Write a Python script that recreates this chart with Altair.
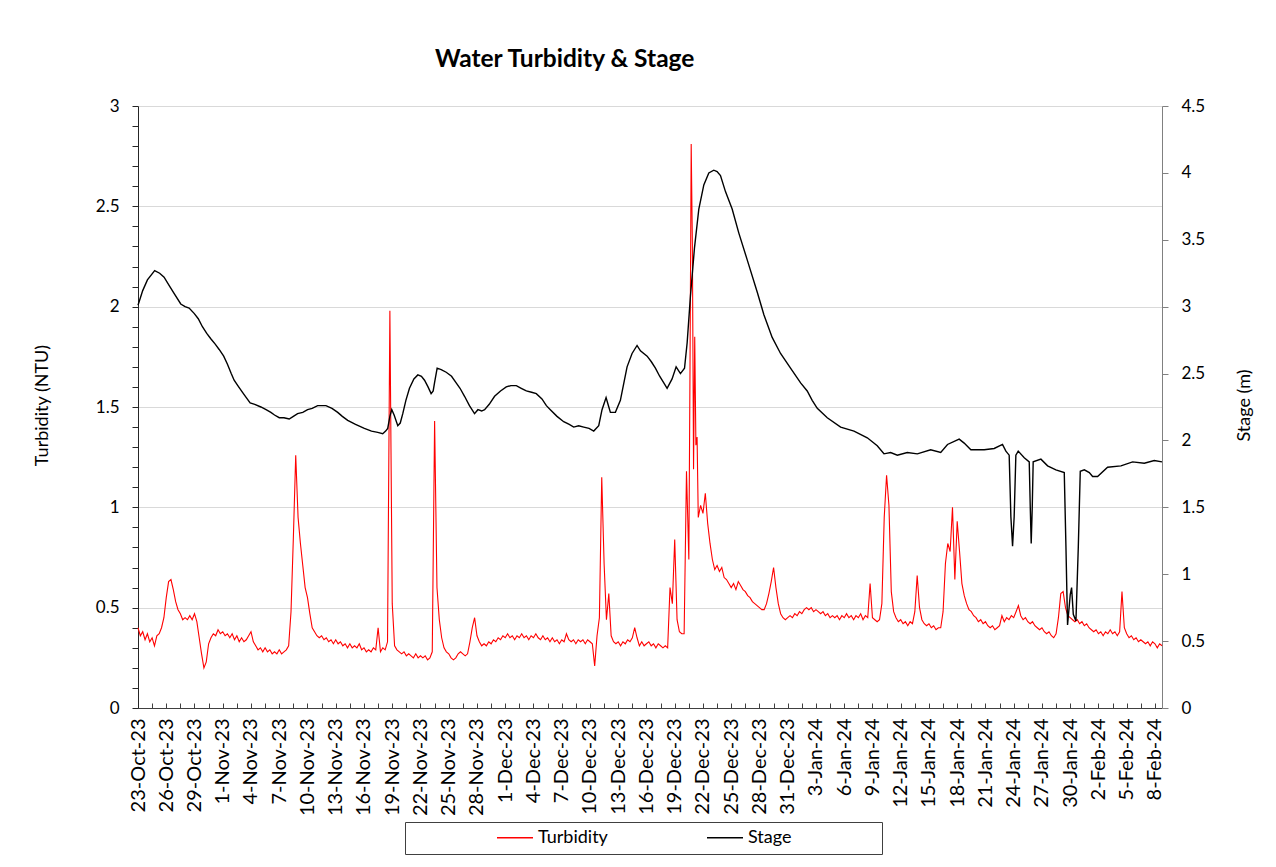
import altair as alt
import pandas as pd

START = "2023-10-23"
END = "2024-02-08T18:00:00"
SERIES = ["Turbidity", "Stage"]
COLORS = ["#ff0000", "#000000"]

# Turbidity (NTU), one reading every 6 hours from 23-Oct-23 00:00
TURB_STEP = "6h"
TURB_NTU = [
    0.40, 0.36, 0.38, 0.34, 0.37, 0.33, 0.35, 0.31,
    0.36, 0.37, 0.40, 0.45, 0.55, 0.63, 0.64, 0.59,
    0.53, 0.49, 0.47, 0.44, 0.45, 0.44, 0.46, 0.44,
    0.47, 0.43, 0.35, 0.27, 0.20, 0.23, 0.32, 0.35,
    0.37, 0.36, 0.39, 0.37, 0.38, 0.36, 0.37, 0.35,
    0.37, 0.34, 0.36, 0.33, 0.35, 0.33, 0.34, 0.36,
    0.38, 0.33, 0.31, 0.29, 0.30, 0.28, 0.30, 0.28,
    0.29, 0.27, 0.28, 0.27, 0.29, 0.27, 0.28, 0.29,
    0.31, 0.48, 0.85, 1.26, 0.95, 0.82, 0.71, 0.60,
    0.55, 0.47, 0.40, 0.38, 0.36, 0.35, 0.36, 0.34,
    0.35, 0.33, 0.34, 0.32, 0.34, 0.32, 0.33, 0.31,
    0.32, 0.30, 0.32, 0.30, 0.31, 0.30, 0.32, 0.29,
    0.30, 0.28, 0.29, 0.28, 0.30, 0.29, 0.40, 0.28,
    0.30, 0.29, 0.33, 1.98, 0.52, 0.31, 0.29, 0.28,
    0.27, 0.28, 0.26, 0.27, 0.26, 0.25, 0.27, 0.25,
    0.26, 0.25, 0.26, 0.24, 0.25, 0.28, 1.43, 0.60,
    0.44, 0.35, 0.30, 0.28, 0.27, 0.25, 0.24, 0.25,
    0.27, 0.28, 0.27, 0.26, 0.27, 0.33, 0.40, 0.45,
    0.36, 0.33, 0.31, 0.32, 0.31, 0.33, 0.32, 0.34,
    0.33, 0.35, 0.34, 0.36, 0.35, 0.37, 0.35, 0.36,
    0.34, 0.36, 0.35, 0.37, 0.35, 0.36, 0.34, 0.36,
    0.35, 0.37, 0.35, 0.34, 0.36, 0.34, 0.35, 0.33,
    0.35, 0.33, 0.34, 0.32, 0.34, 0.33, 0.37, 0.34,
    0.33, 0.34, 0.32, 0.34, 0.33, 0.34, 0.32, 0.34,
    0.33, 0.32, 0.21, 0.36, 0.45, 1.15, 0.72, 0.44,
    0.57, 0.36, 0.33, 0.32, 0.33, 0.31, 0.33, 0.32,
    0.34, 0.33, 0.35, 0.40, 0.35, 0.31, 0.33, 0.31,
    0.32, 0.33, 0.31, 0.32, 0.30, 0.32, 0.31, 0.30,
    0.31, 0.30, 0.60, 0.52, 0.84, 0.44, 0.38, 0.37,
    0.37, 1.18, 0.74, 2.81, 1.19, 1.31, 0.95, 1.01,
    0.97, 1.07, 0.92, 0.82, 0.74, 0.69, 0.71, 0.68,
    0.70, 0.65, 0.64, 0.62, 0.60, 0.62, 0.59, 0.63,
    0.61, 0.59, 0.58, 0.56, 0.55, 0.53, 0.52, 0.51,
    0.50, 0.49, 0.49, 0.52, 0.57, 0.63, 0.70, 0.60,
    0.52, 0.47, 0.45, 0.44, 0.45, 0.46, 0.45, 0.47,
    0.46, 0.48, 0.47, 0.49, 0.50, 0.49, 0.50, 0.48,
    0.49, 0.48, 0.47, 0.48, 0.46, 0.47, 0.45, 0.46,
    0.45, 0.46, 0.44, 0.46, 0.45, 0.47, 0.45, 0.46,
    0.44, 0.46, 0.45, 0.47, 0.44, 0.46, 0.45, 0.62,
    0.45, 0.44, 0.43, 0.44, 0.52, 0.95, 1.16, 1.01,
    0.58, 0.48, 0.45, 0.43, 0.44, 0.42, 0.43, 0.41,
    0.43, 0.42, 0.48, 0.66, 0.50, 0.44, 0.42, 0.41,
    0.42, 0.40, 0.41, 0.39, 0.40, 0.40, 0.48, 0.72,
    0.82, 0.78, 1.00, 0.64, 0.93, 0.78, 0.62, 0.56,
    0.52, 0.49, 0.48, 0.46, 0.45, 0.43, 0.44, 0.42,
    0.43, 0.41, 0.40, 0.41, 0.39, 0.40, 0.41, 0.46,
    0.43, 0.45, 0.44, 0.46, 0.45, 0.48, 0.51, 0.46,
    0.44, 0.45, 0.43, 0.42, 0.43, 0.41, 0.40, 0.39,
    0.40, 0.38, 0.37, 0.38, 0.36, 0.35, 0.37, 0.45,
    0.57, 0.58, 0.50, 0.46, 0.45, 0.44, 0.43, 0.44,
    0.42, 0.43, 0.41, 0.42, 0.40, 0.39, 0.38, 0.39,
    0.37, 0.38, 0.36, 0.38, 0.37, 0.39, 0.37, 0.38,
    0.36, 0.38, 0.58, 0.40, 0.37, 0.35, 0.36, 0.34,
    0.35, 0.33, 0.34, 0.33, 0.32, 0.33, 0.31, 0.33,
    0.32, 0.30, 0.32, 0.31,
]
# extra turbidity readings during the 20-21 Dec flood peak
TURB_EXTRA_TIME = ["2023-12-20T15:00:00", "2023-12-20T21:00:00",
                   "2023-12-21T03:00:00", "2023-12-21T09:00:00"]
TURB_EXTRA_NTU = [1.70, 2.31, 1.85, 1.35]

# Stage (m): days after 23-Oct-23 00:00 and level
STAGE_DAY = [
    0.0, 0.5, 1.0, 1.77, 2.3, 2.77, 3.3, 3.83, 4.54, 5.0, 5.43, 5.96, 6.4, 6.84,
    7.3, 7.73, 8.2, 8.62, 9.1, 9.5, 9.9, 10.21, 10.6, 11.1, 11.5, 11.91, 12.4,
    13.05, 13.6, 14.11, 14.5, 15.0, 15.5, 16.06, 16.5, 16.95, 17.5, 18.01, 18.5,
    19.08, 19.5, 19.96, 20.6, 21.21, 21.7, 22.27, 23.1, 24.04, 24.8, 25.46,
    25.99, 26.3, 26.52, 26.75, 26.95, 27.2, 27.59, 27.85, 28.12, 28.45, 28.83,
    29.3, 29.72, 30.1, 30.43, 30.8, 31.13, 31.35, 31.49, 31.77, 32.2, 32.73,
    33.3, 33.79, 34.2, 34.68, 35.2, 35.74, 36.1, 36.5, 36.81, 37.3, 37.87,
    38.5, 39.11, 39.6, 40.18, 40.7, 41.24, 41.8, 42.3, 42.9, 43.37, 43.79,
    44.5, 45.21, 45.8, 46.27, 46.8, 47.34, 47.9, 48.4, 48.93, 49.28, 49.71,
    50.0, 50.17, 50.7, 51.23, 51.6, 51.94, 52.47, 53.0, 53.36, 54.07, 54.5,
    54.95, 55.4, 55.84, 56.19, 56.72, 57.15, 57.61, 58.04, 58.32, 58.67,
    59.1, 59.56, 60.09, 60.62, 61.15, 61.5, 61.86, 62.39, 63.1, 63.81, 64.7,
    65.76, 66.47, 67.35, 68.24, 69.3, 70.37, 71.07, 71.6, 72.14, 73.2, 74.62,
    76.04, 77.45, 78.51, 79.22, 79.93, 80.64, 81.7, 82.77, 84.18, 85.25,
    85.97, 87.21, 87.74, 88.45, 89.87, 90.93, 91.81, 92.17, 92.52, 92.7,
    92.88, 93.05, 93.23, 93.48, 94.12, 94.65, 94.76, 94.86, 94.97, 95.07,
    95.89, 96.6, 97.48, 98.37, 98.55, 98.72, 99.01, 99.15, 99.33, 99.61,
    99.86, 100.07, 100.5, 101.03, 101.38, 101.91, 102.97, 104.39, 105.63,
    106.87, 107.93, 108.75,
]
STAGE_M = [
    3.01, 3.12, 3.20, 3.27, 3.25, 3.22, 3.16, 3.10, 3.02, 3.00, 2.99, 2.95, 2.91, 2.85,
    2.80, 2.76, 2.72, 2.68, 2.63, 2.57, 2.50, 2.45, 2.41, 2.36, 2.32, 2.28, 2.27,
    2.25, 2.23, 2.21, 2.19, 2.17, 2.17, 2.16, 2.18, 2.20, 2.21, 2.23, 2.24,
    2.26, 2.26, 2.26, 2.24, 2.21, 2.18, 2.15, 2.12, 2.09, 2.07, 2.06,
    2.05, 2.07, 2.09, 2.18, 2.23, 2.19, 2.11, 2.13, 2.20, 2.30, 2.39,
    2.46, 2.49, 2.48, 2.45, 2.40, 2.35, 2.37, 2.43, 2.54, 2.53, 2.51,
    2.48, 2.43, 2.39, 2.33, 2.26, 2.20, 2.23, 2.22, 2.23, 2.27, 2.33,
    2.37, 2.40, 2.41, 2.41, 2.39, 2.37, 2.36, 2.35, 2.31, 2.26, 2.23,
    2.18, 2.14, 2.12, 2.10, 2.11, 2.10, 2.09, 2.07, 2.11, 2.23, 2.32,
    2.25, 2.21, 2.21, 2.30, 2.43, 2.55, 2.65, 2.71, 2.67, 2.63, 2.59,
    2.54, 2.48, 2.43, 2.39, 2.46, 2.55, 2.50, 2.54, 2.73, 3.08,
    3.44, 3.73, 3.91, 4.00, 4.02, 4.01, 3.98, 3.86, 3.73, 3.55, 3.35,
    3.11, 2.94, 2.77, 2.65, 2.54, 2.43, 2.37, 2.30, 2.24, 2.17, 2.10,
    2.07, 2.02, 1.96, 1.90, 1.91, 1.89, 1.91, 1.90, 1.93, 1.91,
    1.97, 2.01, 1.98, 1.93, 1.93, 1.94, 1.97, 1.92, 1.89, 1.43,
    1.21, 1.43, 1.89, 1.92, 1.87, 1.84, 1.50, 1.23, 1.50, 1.84,
    1.86, 1.81, 1.78, 1.76, 1.20, 0.62, 0.85, 0.90, 0.70, 0.65,
    1.20, 1.77, 1.78, 1.76, 1.73, 1.73, 1.80, 1.81, 1.84,
    1.83, 1.85, 1.84,
]

FMT = "%Y-%m-%dT%H:%M:%S"

turb = pd.DataFrame({
    "time": pd.date_range(START, periods=len(TURB_NTU), freq=TURB_STEP),
    "value": TURB_NTU,
})
extra = pd.DataFrame({"time": pd.to_datetime(TURB_EXTRA_TIME), "value": TURB_EXTRA_NTU})
turb = pd.concat([turb, extra]).sort_values("time").reset_index(drop=True)
turb["time"] = turb["time"].dt.strftime(FMT)
turb["series"] = SERIES[0]

stage = pd.DataFrame({
    "time": (pd.Timestamp(START) + pd.to_timedelta(STAGE_DAY, unit="D")).round("min"),
    "value": STAGE_M,
})
stage["time"] = stage["time"].dt.strftime(FMT)
stage["series"] = SERIES[1]


def dt(ts):
    return alt.DateTime(year=ts.year, month=ts.month, date=ts.day, hours=ts.hour)


MAJOR = [dt(t) for t in pd.date_range(START, "2024-02-08", freq="3D")]
MINOR = [dt(t) for t in pd.date_range(START, periods=73, freq="36h")]
X_DOMAIN = [dt(pd.Timestamp(START)), dt(pd.Timestamp(END))]
Y_LEFT_TICKS = [round(i / 10, 1) for i in range(31)]
Y_RIGHT_TICKS = [i / 2 for i in range(10)]

FONT = "Lato"
AX = "#404040"

x_main = alt.Axis(
    values=MAJOR, format="%-d-%b-%y", labelAngle=270, labelAlign="right",
    labelBaseline="middle", labelFontSize=20, labelPadding=10, ticks=False,
    tickSize=0, labelOverlap=False, domainColor=AX, grid=False, title="",
)
x_minor = alt.Axis(
    orient="bottom", values=MINOR, offset=-5, labels=False, domain=False,
    ticks=True, tickSize=5, tickColor=AX, grid=False, title="",
)
y_left = alt.Axis(
    values=Y_LEFT_TICKS,
    labelExpr="abs(datum.value*2 - round(datum.value*2)) < 0.001 ? format(datum.value, '~g') : ''",
    tickSize=6, labelPadding=13, labelFontSize=17, domainColor="#262626",
    tickColor="#262626", gridColor="#d9d9d9",
    gridOpacity={"condition": {"test": "abs(datum.value*2 - round(datum.value*2)) < 0.001 && datum.value > 0", "value": 1}, "value": 0},
    title="Turbidity (NTU)", titleFontSize=18, titleX=-96, titleY=299,
    titleBaseline="middle", titleAngle=270,
)
y_right = alt.Axis(
    orient="right", values=Y_RIGHT_TICKS, format="~g", tickSize=6,
    labelPadding=13, labelFontSize=17, domainColor="#808080",
    tickColor="#808080", grid=False, title="Stage (m)", titleFontSize=18,
    titleX=82, titleY=299, titleBaseline="middle", titleAngle=270,
)

# padding after the last legend label (kept by a zero-width end character)
PAD = "\u00a0" * 18 + "\u200b"
legend = alt.Legend(
    orient="none", legendX=267, legendY=716, direction="horizontal", columns=2,
    title=" ", titleOrient="left", titlePadding=84, titleFontSize=2,
    symbolType="stroke", symbolSize=1296, symbolStrokeWidth=1.5,
    clipHeight=17, columnPadding=98, labelOffset=4, labelFontSize=18,
    labelFont=FONT, labelColor="black", padding=7, strokeColor="#404040",
    fillColor="white", labelLimit=400,
    labelExpr=f"datum.label == 'Stage' ? 'Stage{PAD}' : datum.label",
)

color = alt.Color("series:N", scale=alt.Scale(domain=SERIES, range=COLORS), legend=legend)

turb_line = alt.Chart(turb).mark_line(strokeWidth=1.1).encode(
    x=alt.X("time:T", scale=alt.Scale(domain=X_DOMAIN), axis=x_main),
    y=alt.Y("value:Q", scale=alt.Scale(domain=[0, 3], nice=False), axis=y_left),
    color=color,
)
stage_line = alt.Chart(stage).mark_line(strokeWidth=1.4).encode(
    x=alt.X("time:T", axis=x_minor),
    y=alt.Y("value:Q", scale=alt.Scale(domain=[0, 4.5], nice=False), axis=y_right),
    color=alt.Color("series:N"),
)

chart = (
    alt.layer(turb_line, stage_line)
    .resolve_scale(y="independent")
    .resolve_axis(x="independent")
    .properties(
        width=1024, height=602,
        autosize=alt.AutoSizeParams(type="none"),
        padding={"left": 130, "top": 98, "right": 106, "bottom": 150},
        background="white",
        title=alt.TitleParams(
            "Water Turbidity & Stage", anchor="start", frame="group", dx=297,
            offset=25, fontSize=24.5, font=FONT, fontWeight="bold", color="black",
        ),
    )
    .configure_axis(labelFont=FONT, titleFont=FONT, labelColor="black",
                    titleColor="black", titleFontWeight="normal")
    .configure_view(stroke="transparent")
)

chart.save("out.html", embed_options={"renderer": "svg", "actions": False})
